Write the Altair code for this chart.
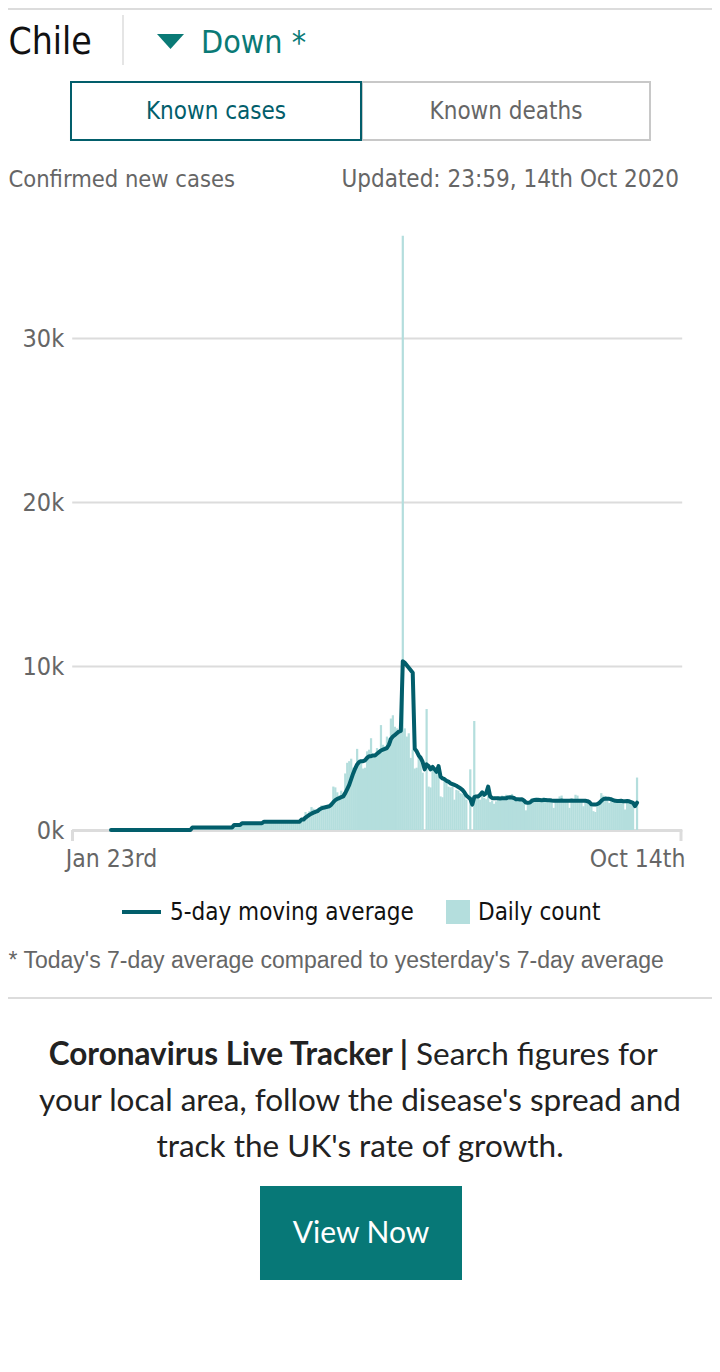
import altair as alt
import pandas as pd

# ---------------- data ----------------
# daily new confirmed cases, one value per day from Jan 23rd (day 0) to Oct 14th (day 265)
daily_a = [0] * 41                                   # Jan 23 - Mar 3
daily_b = [150, 140, 160, 150, 130, 150, 160, 140, 150, 150, 170, 140, 150, 150, 160,
           140, 150, 150, 160, 140, 150]
daily_c = [290, 310, 300, 320]
daily_d = [400, 410, 390, 420, 400, 410, 400, 390, 420, 410, 400]
daily_e = [500, 510, 490, 520, 500, 510, 490, 500, 520, 500, 490, 510, 500, 520, 500,
           490, 510, 500, 510]
daily_f = [650, 700, 1100, 850, 1150, 1400, 1300, 1250, 1200, 1250, 1500, 1400, 1450,
           1350, 1400, 1600]
daily_g = [2650, 2600, 2300, 2100, 2400, 2250, 3450, 4100, 4200, 4350, 3800, 3700, 4950,
           4300, 4200, 3750, 3800, 4800, 4900, 5600, 4600, 4500, 5000, 4800, 6400, 5200,
           5100, 5700, 5600, 6800, 7000, 6300, 6200, 5900, 6300]
daily_h = [36250]
daily_i = [6200, 5700, 5900, 4400, 4900, 3750, 3800, 4500, 4400, 3500, 0, 7380, 2650,
           2600, 3850, 3700, 3650, 3750, 2050, 2000, 3050, 3000, 2650, 2600, 2650, 1850,
           2450, 2400, 2250, 2200, 2250, 1850, 0, 3700, 0, 6650, 1900, 2000, 1850, 2100,
           1950, 1880, 2350, 1700, 1800, 1600, 1750, 2050, 1950, 2100, 2000, 2150, 1900,
           2050, 2200, 1850, 1900, 1750, 2000, 1800, 1850, 1200, 1600, 1750, 1950, 1800,
           2000, 1850]
daily_j = [1750, 1850, 2000, 1800, 1700, 1900, 1850, 1350, 1800, 1900, 2050, 2100, 1850,
           1800, 1750, 1350, 1800, 1900, 2150, 2100, 1850, 1800, 1450, 1750, 1800, 1700,
           1500, 1150, 1100, 1600, 1750, 2250, 2100, 1900, 1800, 1650, 1900, 1850, 1800,
           1850, 1750, 1800, 1750, 1250, 1700, 1800, 1750, 1650, 0, 3200]
daily_count = daily_a + daily_b + daily_c + daily_d + daily_e + daily_f + daily_g + daily_h + daily_i + daily_j

# 5-day moving average as drawn in the reference
avg_a = [0] * 41
avg_b = [150] * 21
avg_c = [305] * 4
avg_d = [408] * 11
avg_e = [506] * 19
avg_f = [640, 640]
avg_g = [760, 850, 930, 1000, 1060, 1110, 1150, 1250, 1320, 1360, 1390, 1420, 1450, 1550,
         1700, 1820, 1900, 1950, 2000, 2050, 2250, 2500, 2750, 3100, 3450, 3750, 4000,
         4150, 4200, 4200, 4250, 4400, 4500, 4500, 4550, 4550, 4650, 4750, 4850, 4900,
         4950, 5000, 5200, 5550, 5700, 5800, 5900, 6000, 6050]
avg_h = [10300, 10200, 10050, 9900, 9750, 9600]
avg_i = [4950, 4800, 4550, 4400, 4150, 3700, 4000, 3900, 3700, 3850, 3700, 3550, 3900,
         3250, 3150, 3100, 3000, 2950, 2850, 2800, 2750, 2700, 2620, 2550, 2450, 2300,
         2100, 2000, 1900, 1550, 2000, 2050, 2050, 2150, 2300, 2150, 2250, 2650, 2050,
         1950, 1930, 1940, 1930, 1920, 1930, 1940, 1930, 1990, 2000, 1980, 1950, 1880,
         1870, 1860, 1870, 1800, 1680, 1660, 1670, 1780, 1830, 1830, 1840]
avg_j = [1830, 1820, 1830, 1830, 1820, 1820, 1800, 1790, 1790, 1780, 1790, 1800, 1790,
         1790, 1780, 1790, 1800, 1790, 1790, 1790, 1780, 1790, 1790, 1780, 1760, 1700,
         1570, 1560, 1560, 1580, 1650, 1780, 1880, 1920, 1910, 1900, 1880, 1820, 1780,
         1770, 1770, 1780, 1760, 1760, 1770, 1750, 1700, 1650, 1460, 1670]
moving_average = avg_a + avg_b + avg_c + avg_d + avg_e + avg_f + avg_g + avg_h + avg_i + avg_j

x_tick_values = [0, 265]
x_tick_labels = ["Jan 23rd", "Oct 14th"]
y_tick_values = [0, 10000, 20000, 30000]
y_tick_labels = ["0k", "10k", "20k", "30k"]

df = pd.DataFrame({
    "day": list(range(len(daily_count))),
    "daily": daily_count,
    "avg": moving_average,
})

# ---------------- style ----------------
UI = "DejaVu Sans Condensed, Liberation Sans Narrow, sans-serif"
FOOT = "Liberation Sans, Arial, sans-serif"
PROMO = "Lato, Open Sans, sans-serif"
LINE_C = "#025e6b"
BAR_C = "#b4dedd"
TEAL = "#0a7a76"
GRID_C = "#dcdcdc"

W, H = 610, 595          # plot area
X0, Y0 = 71.7, 235.0     # page position of plot area's top-left corner


def px(x):
    return x - X0


def py(y):
    return y - Y0


def lbl(values, labels):
    expr = "''"
    for v, l in zip(values, labels):
        expr = f"datum.value == {v} ? '{l}' : ({expr})"
    return expr


xs = alt.Scale(domain=[-19.8, 287.5], nice=False, zero=False, padding=0)
ys = alt.Scale(domain=[0, 36300], nice=False, padding=0)

bars = alt.Chart(df).transform_calculate(
    d0="datum.day - 0.56", d1="datum.day + 0.56"
).mark_bar(color=BAR_C, orient="vertical").encode(
    x=alt.X("d0:Q", scale=xs, axis=alt.Axis(
        values=x_tick_values, labelExpr=lbl(x_tick_values, x_tick_labels), title=None,
        ticks=False, tickSize=0, grid=False, domainColor=GRID_C, domainWidth=3,
        labelFont=UI, labelFontSize=24.5, labelColor="#666", labelPadding=17,
        labelFlush=False, labelOverlap=False)),
    x2="d1:Q",
    y=alt.Y("daily:Q", scale=ys, axis=alt.Axis(
        values=y_tick_values, labelExpr=lbl(y_tick_values, y_tick_labels), title=None,
        ticks=False, tickSize=0, domain=False, grid=True, gridColor=GRID_C, gridWidth=2,
        labelFont=UI, labelFontSize=25, labelColor="#666", labelPadding=8)),
    y2=alt.datum(0),
)

line = alt.Chart(df).mark_line(
    color=LINE_C, strokeWidth=4, strokeJoin="round", strokeCap="round"
).encode(x=alt.X("day:Q", scale=xs), y=alt.Y("avg:Q", scale=ys))

one = pd.DataFrame({"k": [0]})


def text(t, x, y, size, color, font=UI, align="left", weight="normal"):
    return alt.Chart(one).mark_text(
        text=t, align=align, baseline="middle", fontSize=size, font=font,
        color=color, fontWeight=weight
    ).encode(x=alt.value(px(x)), y=alt.value(py(y)))


def hrule(x1, x2, y, color, width):
    return alt.Chart(one).mark_rule(color=color, strokeWidth=width).encode(
        x=alt.value(px(x1)), x2=alt.value(px(x2)), y=alt.value(py(y)))


def vrule(x, y1, y2, color, width):
    return alt.Chart(one).mark_rule(color=color, strokeWidth=width).encode(
        x=alt.value(px(x)), y=alt.value(py(y1)), y2=alt.value(py(y2)))


def box(x1, y1, x2, y2, fill, stroke=None, sw=0):
    kw = dict(fill=fill, strokeWidth=sw)
    if stroke:
        kw["stroke"] = stroke
    return alt.Chart(one).mark_rect(**kw).encode(
        x=alt.value(px(x1)), x2=alt.value(px(x2)),
        y=alt.value(py(y1)), y2=alt.value(py(y2)))


decor = [
    hrule(8, 712, 9, GRID_C, 2),
    text("Chile", 8.5, 43, 37, "#111"),
    vrule(123, 15, 65, GRID_C, 1.5),
    alt.Chart(one).mark_point(
        shape="M-1,-0.55L1,-0.55L0,0.55Z", size=729, filled=True, opacity=1,
        color=TEAL, strokeWidth=0
    ).encode(x=alt.value(px(170.5)), y=alt.value(py(41.5))),
    text("Down *", 201, 43, 32, TEAL),
    box(362, 82, 650, 140, "white", "#c8c8c8", 2),
    box(71, 82, 361, 140, "white", LINE_C, 2),
    text("Known cases", 216, 112, 24, LINE_C, align="center"),
    text("Known deaths", 506, 112, 24, "#666", align="center"),
    text("Confirmed new cases", 8.5, 180, 23.5, "#666"),
    text("Updated: 23:59, 14th Oct 2020", 679, 180, 24, "#666", align="right"),
    vrule(72.5, 830, 841, GRID_C, 3),
    vrule(681, 830, 841, GRID_C, 3),
    hrule(122, 161, 912, LINE_C, 4),
    text("5-day moving average", 170, 913, 24, "#111"),
    box(446, 900, 470, 924, BAR_C),
    text("Daily count", 478, 913, 24, "#111"),
    text("* Today's 7-day average compared to yesterday's 7-day average", 8.5, 961, 23, "#666", font=FOOT),
    hrule(8, 712, 998, GRID_C, 2),
    text("Coronavirus Live Tracker |", 408, 1056, 31.5, "#222", font=PROMO, align="right", weight="bold"),
    text("Search figures for", 416, 1056, 31.5, "#222", font=PROMO),
    text("your local area, follow the disease's spread and", 360, 1102, 31.5, "#222", font=PROMO, align="center"),
    text("track the UK's rate of growth.", 360, 1148, 31.5, "#222", font=PROMO, align="center"),
    box(260, 1186, 462, 1280, "#077877"),
    text("View Now", 361, 1234, 30, "white", font=PROMO, align="center"),
]

chart = alt.layer(bars, line, *decor).properties(
    width=W, height=H,
    autosize=alt.AutoSizeParams(type="none"),
    padding={"left": X0 - 8, "top": Y0 - 8, "right": 704 - W - (X0 - 8), "bottom": 470},
    background="white",
).configure_view(stroke=None)

chart.save("out.html", embed_options={"renderer": "svg", "actions": False})
